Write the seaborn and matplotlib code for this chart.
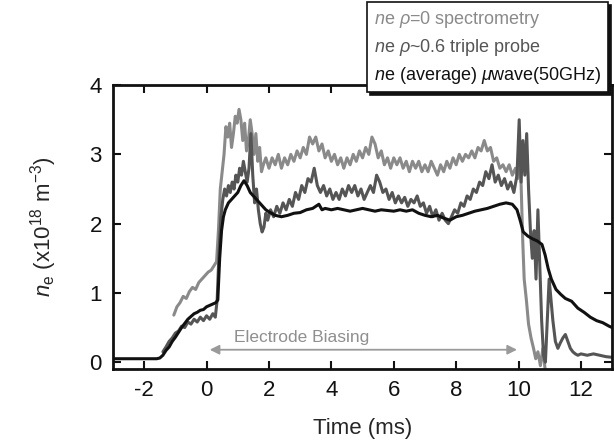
"""Electron density during electrode biasing: three diagnostics."""

import matplotlib
matplotlib.use("Agg")
import matplotlib.pyplot as plt
import numpy as np
import pandas as pd
import seaborn as sns

# --- data ------------------------------------------------------------------
t_spec = [-1.05, -0.95, -0.85, -0.75, -0.65, -0.55, -0.45, -0.35, -0.25, -0.15,
          -0.05, 0.05, 0.15, 0.25, 0.32, 0.38, 0.44, 0.5, 0.56, 0.62, 0.68, 0.74,
          0.8, 0.86, 0.92, 0.98, 1.04, 1.1, 1.16, 1.22, 1.28, 1.34, 1.4, 1.46,
          1.52, 1.58, 1.64, 1.7, 1.76, 1.82, 1.9, 2.0, 2.1, 2.2, 2.3, 2.4, 2.5,
          2.6, 2.7, 2.8, 2.9, 3.0, 3.1, 3.2, 3.3, 3.4, 3.5, 3.6, 3.7, 3.8, 3.9,
          4.0, 4.1, 4.2, 4.3, 4.4, 4.5, 4.6, 4.7, 4.8, 4.9, 5.0, 5.1, 5.2, 5.3,
          5.4, 5.5, 5.6, 5.7, 5.8, 5.9, 6.0, 6.1, 6.2, 6.3, 6.4, 6.5, 6.6, 6.7,
          6.8, 6.9, 7.0, 7.1, 7.2, 7.3, 7.4, 7.5, 7.6, 7.7, 7.8, 7.9, 8.0, 8.1,
          8.2, 8.3, 8.4, 8.5, 8.6, 8.7, 8.8, 8.9, 9.0, 9.1, 9.2, 9.3, 9.4, 9.5,
          9.6, 9.7, 9.8, 9.9, 9.97, 10.03, 10.08, 10.13, 10.18, 10.25, 10.32,
          10.4, 10.48, 10.55, 10.62, 10.7, 10.78, 10.85, 10.95]
ne_spec = [0.68, 0.8, 0.86, 0.95, 0.92, 1.02, 1.08, 1.05, 1.15, 1.2,
           1.25, 1.3, 1.33, 1.4, 1.45, 1.9, 2.5, 2.75, 3.0, 3.4, 3.25, 3.45,
           3.1, 3.3, 3.55, 3.45, 3.65, 3.5, 3.2, 3.45, 3.05, 3.2, 3.5, 3.3,
           3.0, 3.3, 2.9, 3.1, 2.75, 2.85, 2.95, 2.8, 2.95, 2.85, 3.0, 2.8, 2.95,
           2.85, 3.0, 2.9, 3.05, 2.95, 3.1, 3.0, 3.25, 3.15, 3.25, 3.05, 3.15, 2.95, 3.05,
           2.9, 3.0, 2.85, 2.95, 2.8, 2.95, 2.85, 3.0, 2.9, 3.05, 2.95, 3.1, 3.0, 3.25,
           3.15, 2.95, 3.05, 2.85, 2.95, 2.8, 2.95, 2.85, 2.95, 2.8, 2.9, 2.75, 2.9, 2.8,
           2.9, 2.75, 2.85, 2.75, 2.9, 2.8, 2.7, 2.85, 2.75, 2.9, 2.8, 2.95, 2.85, 3.0,
           2.9, 3.0, 2.95, 3.05, 2.95, 3.1, 3.05, 3.2, 3.05, 3.1, 2.9, 2.95, 2.8, 2.85,
           2.75, 2.85, 2.7, 2.8, 2.65, 3.0, 2.6, 1.8, 1.2, 0.9, 0.55,
           0.35, 0.2, 0.05, 0.15, -0.05, 0.2, -0.1, -0.2]

t_probe = [-1.4, -1.3, -1.2, -1.1, -1.0, -0.9, -0.8, -0.7, -0.6, -0.5, -0.4, -0.3,
           -0.2, -0.1, 0.0, 0.1, 0.2, 0.28, 0.34, 0.4, 0.46, 0.52, 0.58, 0.64, 0.7,
           0.76, 0.82, 0.88, 0.94, 1.0, 1.06, 1.12, 1.18, 1.24, 1.3, 1.36, 1.42,
           1.48, 1.54, 1.6, 1.66, 1.72, 1.78, 1.84, 1.9, 1.96, 2.05, 2.15, 2.25,
           2.35, 2.45, 2.55, 2.65, 2.75, 2.85, 2.95, 3.05, 3.15, 3.25, 3.35, 3.45,
           3.55, 3.65, 3.75, 3.85, 3.95, 4.05, 4.15, 4.25, 4.35, 4.45, 4.55, 4.65,
           4.75, 4.85, 4.95, 5.05, 5.15, 5.25, 5.35, 5.45, 5.55, 5.65, 5.75, 5.85,
           5.95, 6.05, 6.15, 6.25, 6.35, 6.45, 6.55, 6.65, 6.75, 6.85, 6.95, 7.05,
           7.15, 7.25, 7.35, 7.45, 7.55, 7.65, 7.75, 7.85, 7.95, 8.05, 8.15, 8.25,
           8.35, 8.45, 8.55, 8.65, 8.75, 8.85, 8.95, 9.05, 9.15, 9.25, 9.35, 9.45,
           9.55, 9.65, 9.75, 9.85, 9.95, 10.02, 10.08, 10.14, 10.2, 10.26, 10.32,
           10.38, 10.44, 10.5, 10.56, 10.62, 10.68, 10.74, 10.8, 10.86, 10.92, 10.98,
           11.04, 11.1, 11.18, 11.26, 11.34, 11.42, 11.5, 11.58, 11.66, 11.74, 11.82,
           11.9, 12.0, 12.2, 12.4, 12.6, 12.8, 13.0]
ne_probe = [0.15, 0.22, 0.3, 0.35, 0.42, 0.45, 0.52, 0.5, 0.58, 0.55, 0.62, 0.58,
            0.65, 0.6, 0.67, 0.62, 0.7, 0.65, 0.9, 1.6, 2.1, 2.35, 2.5, 2.4, 2.55,
            2.45, 2.6, 2.5, 2.7, 2.6, 2.8, 2.7, 2.9, 2.75, 2.6, 2.8, 3.3,
            2.7, 2.3, 2.5, 2.2, 2.0, 1.88, 1.95, 2.15, 2.05, 2.2, 2.1, 2.25,
            2.15, 2.3, 2.2, 2.35, 2.25, 2.45, 2.35, 2.55, 2.45, 2.65, 2.6, 2.8,
            2.55, 2.45, 2.55, 2.4, 2.5, 2.35, 2.45, 2.35, 2.5, 2.4, 2.55, 2.45,
            2.55, 2.4, 2.5, 2.35, 2.45, 2.55, 2.45, 2.7, 2.6, 2.45, 2.5, 2.35,
            2.45, 2.3, 2.4, 2.3, 2.38, 2.25, 2.35, 2.3, 2.4, 2.25, 2.3, 2.15,
            2.25, 2.1, 2.2, 2.05, 2.15, 2.05, 2.0, 2.1, 2.2, 2.15, 2.3, 2.25,
            2.4, 2.35, 2.5, 2.45, 2.6, 2.55, 2.75, 2.65, 2.85, 2.6, 2.7, 2.55,
            2.65, 2.5, 2.6, 2.45, 2.7, 3.5, 2.6, 3.2, 2.7, 3.3, 2.5,
            1.9, 1.5, 1.9, 1.2, 2.2, 1.4, 0.6, 0.1, 0.0, 0.6, 1.2,
            0.9, 0.6, 0.3, 0.2, 0.28, 0.35, 0.4, 0.3, 0.2, 0.15, 0.12,
            0.1, 0.12, 0.1, 0.12, 0.1, 0.08, 0.07]

t_wave = [-3.0, -2.5, -2.0, -1.6, -1.5, -1.4, -1.3, -1.2, -1.1, -1.0, -0.9, -0.8,
          -0.7, -0.6, -0.5, -0.4, -0.3, -0.2, -0.1, 0.0, 0.1, 0.2, 0.3, 0.36, 0.42,
          0.48, 0.54, 0.6, 0.7, 0.8, 0.9, 1.0, 1.1, 1.2, 1.3, 1.4, 1.5, 1.6, 1.7,
          1.8, 1.9, 2.0, 2.2, 2.4, 2.6, 2.8, 3.0, 3.2, 3.4, 3.6, 3.7, 3.8, 4.0,
          4.2, 4.4, 4.6, 4.8, 5.0, 5.2, 5.4, 5.6, 5.8, 6.0, 6.2, 6.4, 6.6, 6.8,
          7.0, 7.2, 7.4, 7.6, 7.8, 8.0, 8.2, 8.4, 8.6, 8.8, 9.0, 9.2, 9.4, 9.6,
          9.8, 9.95, 10.05, 10.15, 10.3, 10.45, 10.6, 10.75, 10.85, 10.95, 11.05,
          11.2, 11.35, 11.5, 11.7, 11.9, 12.1, 12.3, 12.5, 12.7, 12.9, 13.0]
ne_wave = [0.05, 0.05, 0.05, 0.05, 0.06, 0.1, 0.17, 0.22, 0.3, 0.36, 0.43, 0.5,
           0.56, 0.62, 0.66, 0.7, 0.72, 0.75, 0.76, 0.8, 0.82, 0.84, 0.86, 0.9, 1.5,
           1.9, 2.1, 2.2, 2.3, 2.35, 2.4, 2.45, 2.55, 2.62, 2.55, 2.45, 2.4, 2.35, 2.3,
           2.25, 2.2, 2.17, 2.12, 2.1, 2.12, 2.15, 2.16, 2.2, 2.22, 2.28, 2.2, 2.22, 2.2,
           2.22, 2.2, 2.18, 2.2, 2.22, 2.2, 2.18, 2.2, 2.19, 2.18, 2.2, 2.18, 2.2, 2.15,
           2.12, 2.1, 2.12, 2.08, 2.05, 2.1, 2.12, 2.15, 2.18, 2.2, 2.22, 2.25, 2.28, 2.3,
           2.28, 2.2, 2.05, 1.88, 1.82, 1.78, 1.75, 1.7, 1.55, 1.35, 1.2,
           1.05, 0.98, 0.92, 0.88, 0.78, 0.72, 0.65, 0.6, 0.57, 0.52, 0.5]

labels = [r"$\mathit{n}$e $\rho$=0 spectrometry",
          r"$\mathit{n}$e $\rho$~0.6 triple probe",
          r"$\mathit{n}$e (average) $\mu$wave(50GHz)"]
colors = ["#8a8a8a", "#555555", "#111111"]
x_ticks = [-2, 0, 2, 4, 6, 8, 10, 12]
y_ticks = [0, 1, 2, 3, 4]
bias_start, bias_end = 0.1, 9.95

# --- build long table --------------------------------------------------------
df = pd.concat([
    pd.DataFrame({"t": t_spec, "ne": ne_spec, "series": labels[0]}),
    pd.DataFrame({"t": t_probe, "ne": ne_probe, "series": labels[1]}),
    pd.DataFrame({"t": t_wave, "ne": ne_wave, "series": labels[2]}),
], ignore_index=True)

sns.set_style("ticks")
plt.rcParams["font.family"] = ["Liberation Sans", "DejaVu Sans"]
plt.rcParams["mathtext.fontset"] = "custom"
plt.rcParams["mathtext.rm"] = "Liberation Sans"
plt.rcParams["mathtext.it"] = "Liberation Sans:italic"
plt.rcParams["axes.unicode_minus"] = False

fig = plt.figure(figsize=(6.14, 4.41), dpi=100)
ax = fig.add_axes([0.184, 0.163, 0.813, 0.644])

sns.lineplot(data=df, x="t", y="ne", hue="series", palette=dict(zip(labels, colors)),
             estimator=None, sort=False, linewidth=2.2, legend=False, ax=ax)

ax.set_xlim(-3, 13)
ax.set_ylim(-0.1, 4.0)
ax.set_xticks(x_ticks)
ax.set_yticks(y_ticks)
ax.tick_params(direction="in", top=True, right=True, length=6, width=1.5,
               labelsize=16, pad=8, colors="#111111")
for sp in ax.spines.values():
    sp.set_linewidth(2.0)
    sp.set_color("#111111")

ax.set_xlabel("Time (ms)", fontsize=16, labelpad=12)
ax.set_ylabel(r"$\mathit{n}_{\mathrm{e}}$ (x10$^{18}$ m$^{-3}$)", fontsize=16, labelpad=22)

# biasing window
ax.annotate("", xy=(bias_start, 0.18), xytext=(bias_end, 0.18),
            arrowprops=dict(arrowstyle="<|-|>", color="#9a9a9a", lw=1.3,
                            mutation_scale=14, shrinkA=0, shrinkB=0))
ax.text(3.05, 0.36, "Electrode Biasing", color="#8f8f8f", fontsize=12.5,
        ha="center", va="center")

# legend: coloured text, no handles, box with shadow
handles = [plt.Line2D([], [], color=c, lw=0) for c in colors]
leg = fig.legend(handles, labels, loc="upper right", bbox_to_anchor=(0.99, 0.995),
                 borderaxespad=0, handlelength=0, handletextpad=0, fontsize=13,
                 frameon=True, fancybox=False, edgecolor="#111111", borderpad=0.35,
                 labelspacing=0.4, shadow={"color": "#111111", "alpha": 1.0})
leg.get_frame().set_linewidth(1.2)
for txt, c in zip(leg.get_texts(), colors):
    txt.set_color(c)

fig.savefig("out.png", dpi=100, facecolor="white")
